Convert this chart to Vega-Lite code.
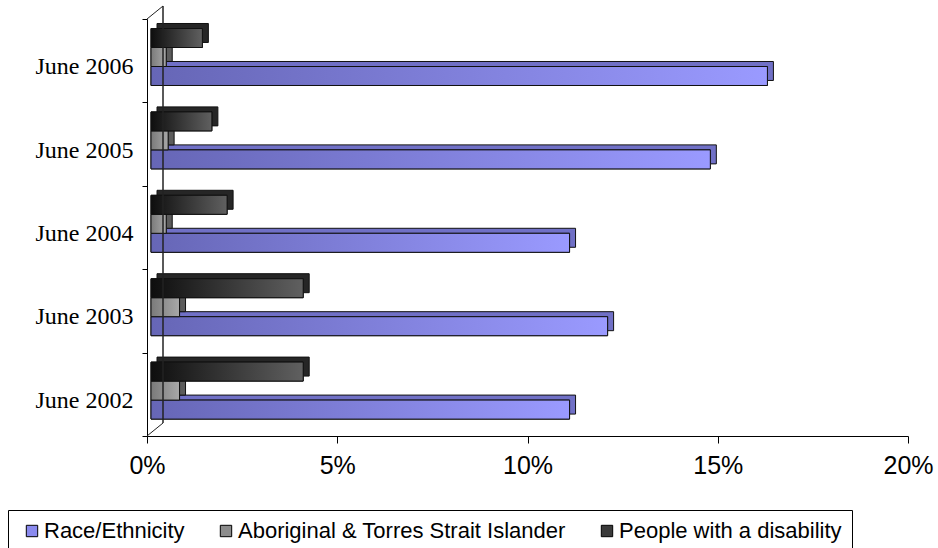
{
  "$schema": "https://vega.github.io/schema/vega-lite/v6.json",
  "width": 761,
  "height": 417,
  "autosize": {"type": "none"},
  "padding": {"left": 147, "top": 19, "right": 30, "bottom": 112},
  "background": "white",
  "config": {
    "view": {"stroke": null},
    "axis": {"grid": false, "domainColor": "black", "tickColor": "black", "labelColor": "black", "domainWidth": 1, "tickWidth": 1}
  },
  "datasets": {
    "rates": [
      {"year": "June 2006", "series": "Race/Ethnicity", "pct": 16.2},
      {"year": "June 2006", "series": "Aboriginal & Torres Strait Islander", "pct": 0.4},
      {"year": "June 2006", "series": "People with a disability", "pct": 1.35},
      {"year": "June 2005", "series": "Race/Ethnicity", "pct": 14.7},
      {"year": "June 2005", "series": "Aboriginal & Torres Strait Islander", "pct": 0.45},
      {"year": "June 2005", "series": "People with a disability", "pct": 1.6},
      {"year": "June 2004", "series": "Race/Ethnicity", "pct": 11.0},
      {"year": "June 2004", "series": "Aboriginal & Torres Strait Islander", "pct": 0.4},
      {"year": "June 2004", "series": "People with a disability", "pct": 2.0},
      {"year": "June 2003", "series": "Race/Ethnicity", "pct": 12.0},
      {"year": "June 2003", "series": "Aboriginal & Torres Strait Islander", "pct": 0.75},
      {"year": "June 2003", "series": "People with a disability", "pct": 4.0},
      {"year": "June 2002", "series": "Race/Ethnicity", "pct": 11.0},
      {"year": "June 2002", "series": "Aboriginal & Torres Strait Islander", "pct": 0.75},
      {"year": "June 2002", "series": "People with a disability", "pct": 4.0}
    ],
    "walls": [
      {"edge": 1},
      {"edge": 0}
    ]
  },
  "layer": [
    {
      "data": {"name": "rates"},
      "encoding": {
        "y": {
          "field": "year",
          "type": "nominal",
          "title": null,
          "scale": {
            "domain": ["June 2006", "June 2005", "June 2004", "June 2003", "June 2002"],
            "paddingInner": 0,
            "paddingOuter": 0
          },
          "axis": {
            "tickBand": "extent",
            "tickSize": 5,
            "labelPadding": 9,
            "labelFont": "Liberation Serif",
            "labelFontSize": 24,
            "labelOffset": 6
          }
        },
        "x": {
          "field": "pct",
          "type": "quantitative",
          "title": null,
          "scale": {"domain": [0, 20]},
          "axis": {
            "values": [0, 5, 10, 15, 20],
            "labelExpr": "datum.value + '%'",
            "labelFlush": false,
            "tickSize": 7,
            "labelPadding": 10,
            "labelFont": "Liberation Sans",
            "labelFontSize": 25
          }
        }
      },
      "layer": [
        {
          "description": "extruded depth of each bar: top and right faces, set back and raised",
          "mark": {"type": "bar", "xOffset": 10, "x2Offset": 10, "stroke": "#111111", "strokeWidth": 1},
          "encoding": {
            "yOffset": {
              "field": "series",
              "type": "nominal",
              "scale": {
                "domain": ["People with a disability", "Aboriginal & Torres Strait Islander", "Race/Ethnicity"],
                "paddingInner": 0,
                "paddingOuter": 0.695,
                "align": 0.17
              }
            },
            "fill": {
              "condition": [
                {"test": "datum.series === 'Race/Ethnicity'", "value": "#7070c6"},
                {"test": "datum.series === 'Aboriginal & Torres Strait Islander'", "value": "#5c5c5c"}
              ],
              "value": "#262626"
            }
          }
        },
        {
          "description": "front faces in flat colour, carrying the legend",
          "mark": {"type": "bar", "xOffset": 4, "x2Offset": 4, "stroke": "#111111", "strokeWidth": 1},
          "encoding": {
            "yOffset": {
              "field": "series",
              "type": "nominal",
              "scale": {
                "domain": ["People with a disability", "Aboriginal & Torres Strait Islander", "Race/Ethnicity"],
                "paddingInner": 0,
                "paddingOuter": 0.695,
                "align": 0.36
              }
            },
            "color": {
              "field": "series",
              "type": "nominal",
              "scale": {
                "domain": ["Race/Ethnicity", "Aboriginal & Torres Strait Islander", "People with a disability"],
                "range": ["#8a8aee", "#8c8c8c", "#3a3a3a"]
              },
              "legend": {
                "orient": "none",
                "legendX": -139,
                "legendY": 491,
                "direction": "horizontal",
                "title": null,
                "symbolType": "square",
                "symbolSize": 130,
                "symbolStrokeColor": "black",
                "symbolStrokeWidth": 1,
                "labelFont": "Liberation Sans",
                "labelFontSize": 22,
                "labelColor": "black",
                "labelLimit": 0,
                "strokeColor": "black",
                "fillColor": "white",
                "padding": 10,
                "columnPadding": 27,
                "symbolOffset": 3,
                "labelOffset": 1
              }
            }
          }
        },
        {
          "description": "shaded front faces",
          "mark": {"type": "bar", "xOffset": 4, "x2Offset": 4, "stroke": "#111111", "strokeWidth": 1},
          "encoding": {
            "yOffset": {
              "field": "series",
              "type": "nominal",
              "scale": {
                "domain": ["People with a disability", "Aboriginal & Torres Strait Islander", "Race/Ethnicity"],
                "paddingInner": 0,
                "paddingOuter": 0.695,
                "align": 0.36
              }
            },
            "fill": {
              "condition": [
                {
                  "test": "datum.series === 'Race/Ethnicity'",
                  "value": {"gradient": "linear", "x1": 0, "x2": 1, "y1": 0, "y2": 0, "stops": [{"offset": 0, "color": "#6666b6"}, {"offset": 1, "color": "#9a9aff"}]}
                },
                {
                  "test": "datum.series === 'Aboriginal & Torres Strait Islander'",
                  "value": {"gradient": "linear", "x1": 0, "x2": 1, "y1": 0, "y2": 0, "stops": [{"offset": 0, "color": "#7a7a7a"}, {"offset": 1, "color": "#a8a8a8"}]}
                }
              ],
              "value": {"gradient": "linear", "x1": 0, "x2": 1, "y1": 0, "y2": 0, "stops": [{"offset": 0, "color": "#0e0e0e"}, {"offset": 1, "color": "#606060"}]}
            }
          }
        }
      ],
      "resolve": {"scale": {"yOffset": "independent"}}
    },
    {
      "data": {"name": "walls"},
      "layer": [
        {
          "description": "floor and top edges of the back wall",
          "mark": {"type": "rule", "x2Offset": 16, "y2Offset": -13, "stroke": "#222222", "strokeWidth": 1},
          "encoding": {
            "x": {"datum": 0, "type": "quantitative", "title": null},
            "x2": {"datum": 0},
            "y": {"field": "edge", "type": "quantitative", "scale": {"domain": [0, 1]}, "axis": null},
            "y2": {"field": "edge"}
          }
        },
        {
          "description": "back wall upright",
          "mark": {"type": "rule", "xOffset": 16, "yOffset": -13, "y2Offset": -13, "stroke": "#222222", "strokeWidth": 1},
          "encoding": {
            "x": {"datum": 0, "type": "quantitative", "title": null},
            "y": {"datum": 1, "type": "quantitative", "scale": {"domain": [0, 1]}, "axis": null},
            "y2": {"datum": 0}
          }
        }
      ]
    }
  ],
  "resolve": {"scale": {"y": "independent"}}
}
